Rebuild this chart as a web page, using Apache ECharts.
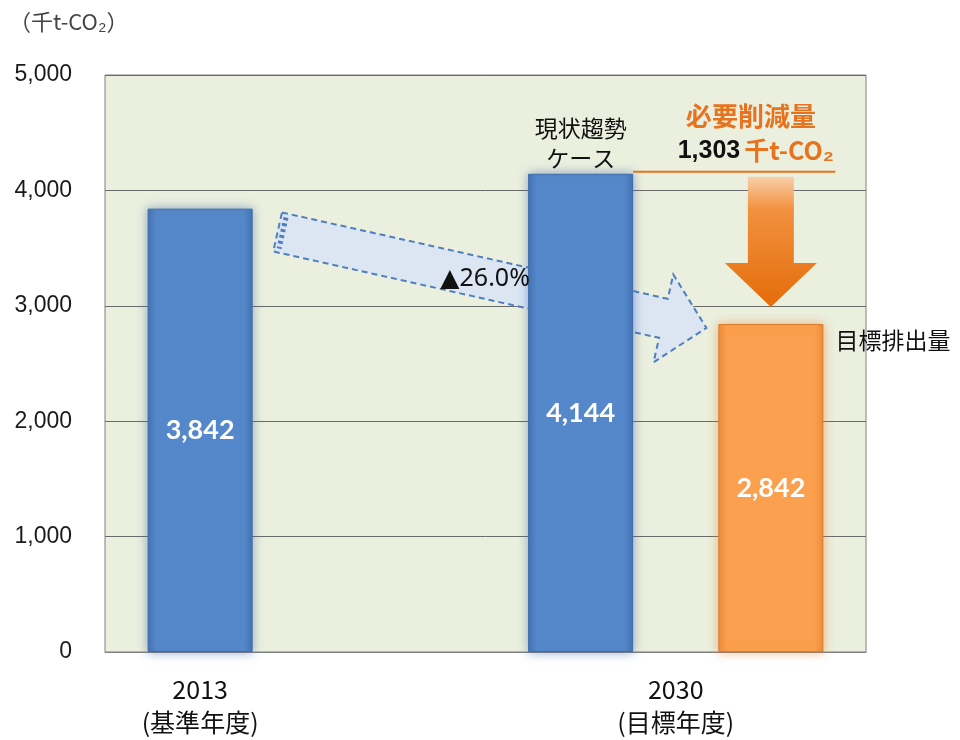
<!DOCTYPE html>
<html>
<head>
<meta charset="utf-8">
<script src="https://cdn.jsdelivr.net/npm/echarts@6/dist/echarts.min.js"></script>
<style>
html,body{margin:0;padding:0;background:#fff;}
#main{width:960px;height:740px;}
</style>
</head>
<body>
<div id="main"></div>
<script>
// ---- data ----
var yearLabels = ['2013\n(基準年度)', '2030\n(目標年度)'];
var yearLabelSlots = [0.5, 3.0];
var blueSlots = [0.5, 2.5];
var blueValues = [3842, 4144];
var orangeSlots = [3.5];
var orangeValues = [2842];
var reductionValue = 1303;
var reductionRate = '26.0%';
var unitText = '（千t-CO₂）';

var FONT_JP = '"Noto Sans CJK JP", "Liberation Sans", sans-serif';
var fmt = function (v) { return v.toLocaleString('en-US'); };

var chart = echarts.init(document.getElementById('main'));

function barStyle(c1, c2, c3, glow) {
  return {
    color: new echarts.graphic.LinearGradient(0, 0, 1, 0, [
      {offset: 0, color: c3},
      {offset: 0.08, color: c1},
      {offset: 0.92, color: c1},
      {offset: 1, color: c3}
    ]),
    borderColor: c2,
    borderWidth: 1,
    shadowBlur: 10,
    shadowColor: glow
  };
}

var labelStyle = {
  show: true, position: 'inside', color: '#fff',
  fontFamily: 'Lato, "Open Sans", sans-serif', fontWeight: 'bold', fontSize: 27,
  formatter: function (p) { return fmt(p.value[1]); }
};

var option = {
  animation: false,
  title: {
    text: unitText,
    left: 4, top: 6,
    textStyle: {fontFamily: FONT_JP, fontSize: 22, fontWeight: 'normal', color: '#444'}
  },
  grid: {
    left: 105, right: 94, top: 75, bottom: 88,
    show: true, backgroundColor: '#EBEFDE', borderColor: '#808080', borderWidth: 1
  },
  xAxis: {
    type: 'value', min: 0, max: 4, interval: 0.5,
    splitLine: {show: false},
    axisTick: {show: false},
    axisLine: {show: true, lineStyle: {color: '#808080'}},
    axisLabel: {
      margin: 21,
      fontFamily: FONT_JP, fontSize: 25, color: '#111', lineHeight: 33,
      formatter: function (v) {
        for (var i = 0; i < yearLabelSlots.length; i++) {
          if (Math.abs(v - yearLabelSlots[i]) < 1e-6) return yearLabels[i];
        }
        return '';
      }
    }
  },
  yAxis: {
    type: 'value', min: 0, max: 5000, interval: 1000,
    axisLine: {show: false}, axisTick: {show: false},
    splitLine: {lineStyle: {color: '#6a6a6a', width: 1}},
    axisLabel: {
      margin: 33, fontFamily: '"Liberation Sans", Arial, sans-serif', fontSize: 23, color: '#1a1a1a',
      formatter: function (v) { return fmt(v); }
    }
  },
  series: [
    {
      type: 'bar', barWidth: 105, barGap: '-100%', z: 3,
      data: blueSlots.map(function (s, i) { return [s, blueValues[i]]; }),
      itemStyle: barStyle('#5588CA', '#3D6CA8', '#4373B3', 'rgba(70,110,170,0.55)'),
      label: labelStyle
    },
    {
      type: 'bar', barWidth: 105, barGap: '-100%', z: 3,
      data: orangeSlots.map(function (s, i) { return [s, orangeValues[i]]; }),
      itemStyle: barStyle('#FBA04E', '#D97A2C', '#EE8C3C', 'rgba(230,130,50,0.55)'),
      label: labelStyle
    }
  ]
};
chart.setOption(option);

// ---- annotations anchored to the data via the chart's scales ----
function px(x, y) { return chart.convertToPixel({gridIndex: 0}, [x, y]); }
var half = 105 / 2;
var bar1 = px(blueSlots[0], blueValues[0]);
var bar2 = px(blueSlots[1], blueValues[1]);
var bar3 = px(orangeSlots[0], orangeValues[0]);

// blue dashed arrow from 2013 bar to target bar
var S = [bar1[0] + half + 25, px(0, 3640)[1]];
var T = [bar3[0] - half - 12, px(0, 2808)[1]];
var dx = T[0] - S[0], dy = T[1] - S[1], len = Math.sqrt(dx * dx + dy * dy);
var u = [dx / len, dy / len], n = [-u[1], u[0]];
var w = 20, h = 45, L = 44;
var B = [T[0] - L * u[0], T[1] - L * u[1]];
function add(p, k, v) { return [p[0] + k * v[0], p[1] + k * v[1]]; }
var arrowPts = [add(S, -w, n), add(B, -w, n), add(B, -h, n), T, add(B, h, n), add(B, w, n), add(S, w, n)];
var mid = add(S, 0.484 * len, u);
var e1 = add(add(S, -w + 4, n), 5, u), e2 = add(add(S, w - 4, n), 5, u);

// orange down arrow above target bar
var lineY = bar2[1] - 2;
var oc = bar3[0];
var oTop = lineY + 5, oTip = bar3[1] - 17, oHead = oTip - 44;
var orangePts = [[oc - 23, oTop], [oc + 23, oTop], [oc + 23, oHead], [oc + 46, oHead], [oc, oTip], [oc - 46, oHead], [oc - 23, oHead]];

var ORANGE = '#E8731E';
chart.setOption({
  graphic: [
    {
      type: 'polygon', z: 1, shape: {points: arrowPts},
      style: {fill: '#DCE6F3', stroke: '#4F7FBF', lineWidth: 2, lineDash: [6, 4]}
    },
    {
      type: 'line', z: 1,
      shape: {x1: e1[0], y1: e1[1], x2: e2[0], y2: e2[1]},
      style: {stroke: '#4F7FBF', lineWidth: 5, lineDash: [3, 3]}
    },
    {
      type: 'text', z: 5, x: mid[0], y: mid[1],
      style: {text: '▲' + reductionRate, fontFamily: '"Noto Sans", "DejaVu Sans", sans-serif', fontSize: 25, fill: '#111', align: 'center', verticalAlign: 'middle'}
    },
    {
      type: 'text', z: 5, x: bar2[0], y: bar2[1] - 1,
      style: {text: '現状趨勢\nケース', fontFamily: FONT_JP, fontSize: 23, lineHeight: 30, fill: '#111', align: 'center', verticalAlign: 'bottom'}
    },
    {
      type: 'line', z: 5, shape: {x1: bar2[0] + half, y1: lineY, x2: oc + half + 12, y2: lineY},
      style: {stroke: ORANGE, lineWidth: 2}
    },
    {
      type: 'text', z: 5, x: oc - 20, y: lineY - 56,
      style: {text: '必要削減量', fontFamily: FONT_JP, fontSize: 26, fontWeight: 'bold', fill: ORANGE, align: 'center', verticalAlign: 'middle'}
    },
    {
      type: 'text', z: 5, x: oc + 63, y: lineY - 21,
      style: {
        text: '{a|' + fmt(reductionValue) + '}{b|千t-CO₂}',
        align: 'right', verticalAlign: 'middle',
        rich: {
          a: {fontFamily: '"Liberation Sans", Arial, sans-serif', fontSize: 25, fontWeight: 'bold', fill: '#111', padding: [0, 4, 0, 0]},
          b: {fontFamily: FONT_JP, fontSize: 25, fontWeight: 'bold', fill: ORANGE}
        }
      }
    },
    {
      type: 'polygon', z: 5, shape: {points: orangePts},
      style: {
        fill: new echarts.graphic.LinearGradient(0, 0, 0, 1, [
          {offset: 0, color: '#F9CFA8'},
          {offset: 0.25, color: '#F2913F'},
          {offset: 1, color: '#E46C0A'}
        ])
      }
    },
    {
      type: 'text', z: 5, x: oc + half + 12, y: bar3[1] + 16,
      style: {text: '目標排出量', fontFamily: FONT_JP, fontSize: 23, fill: '#111', align: 'left', verticalAlign: 'middle'}
    }
  ]
});
</script>
</body>
</html>
